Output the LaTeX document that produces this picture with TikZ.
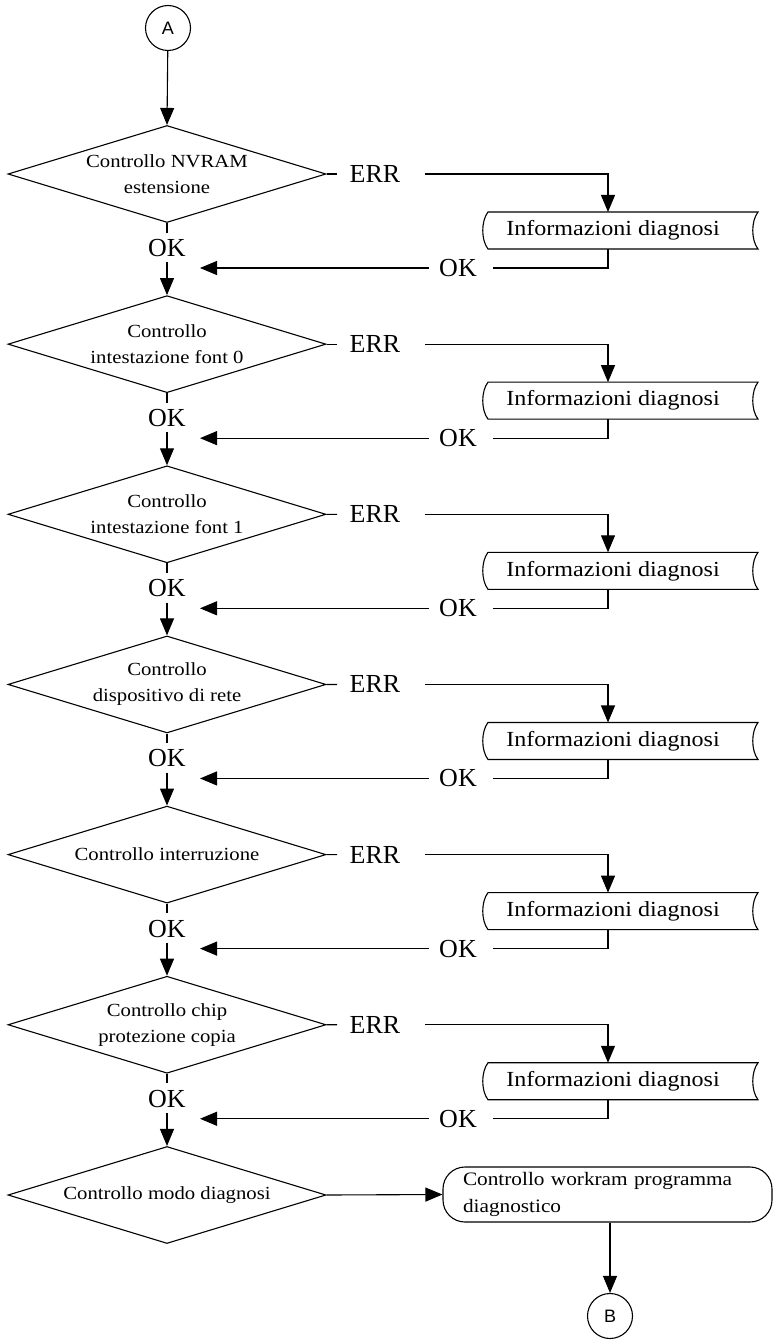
\documentclass[tikz,border=0pt]{standalone}
\usepackage{fontspec}
\setmainfont{Liberation Serif}
\newfontfamily\widefont[FakeStretch=1.12]{Liberation Serif}
\newfontfamily\connfont{Liberation Sans}
\usetikzlibrary{shapes.geometric,arrows.meta,calc}

\begin{document}
\begin{tikzpicture}[x=1pt,y=-1pt,line width=1.1pt,
  flow/.style={-{Triangle[length=17pt,width=14pt]}},
  decision/.style={diamond,draw,minimum width=318pt,minimum height=97pt,
    aspect=3.28,inner sep=0pt,align=center,
    font=\widefont\fontsize{18.5}{26}\selectfont},
  lbl/.style={font=\fontsize{26}{28}\selectfont,inner sep=0pt},
  connector/.style={circle,draw,minimum size=45pt,inner sep=0pt,
    font=\connfont\fontsize{18}{20}\selectfont},
  infotext/.style={font=\widefont\fontsize{21.5}{24}\selectfont,inner sep=0pt},
  terminal/.style={draw,rounded corners=22pt,text width=289pt,inner xsep=20pt,
    inner ysep=0pt,minimum height=55pt,align=left,
    font=\widefont\fontsize{19}{27}\selectfont}]

\useasboundingbox (0,0) rectangle (774,1340);

\node[connector] (A) at (168,28) {A};

% decision column
\node[decision] (d1) at (167,174.00) {Controllo NVRAM\\estensione};
\node[decision] (d2) at (167,344.15) {Controllo\\intestazione font 0};
\node[decision] (d3) at (167,514.30) {Controllo\\intestazione font 1};
\node[decision] (d4) at (167,684.45) {Controllo\\dispositivo di rete};
\node[decision] (d5) at (167,854.60) {Controllo interruzione};
\node[decision] (d6) at (167,1024.75) {Controllo chip\\protezione copia};
\node[decision] (d7) at (167,1195) {Controllo modo diagnosi};

\draw[flow] (A) -- (d1.north);

% error branch of each check: ERR -> diagnostic info -> OK back to the main column
\foreach \i [evaluate=\i as \c using 174+170.15*(\i-1)] in {1,...,6} {
  \node[lbl] (err\i) at (375,\c) {ERR};
  \node[lbl] (okd\i) at (167,\c+74) {OK};
  \node[lbl] (okr\i) at (458,\c+94) {OK};
  \node[infotext] (info\i) at (613,\c+56.5) {Informazioni diagnosi};
  \coordinate (in\i) at (608,\c+38);
  \coordinate (out\i) at (608,\c+75);
  \coordinate (back\i) at (200,\c+94);
  % stored-data outline around the info text
  \draw (488,\c+38) .. controls (481,\c+47) and (481,\c+66) .. (488,\c+75)
    -- (758,\c+75) .. controls (751,\c+66) and (751,\c+47) .. (758,\c+38) -- cycle;
  \draw (d\i.east) -- ([xshift=-12pt]err\i.west);
  \draw[flow] ([xshift=24pt]err\i.east) -| (in\i);
  \draw (out\i) |- ([xshift=16pt]okr\i.east);
  \draw[flow] ([xshift=-10pt]okr\i.west) -- (back\i);
  \draw (d\i.south) -- ([yshift=6pt]okd\i.north);
}

\draw[flow] ([yshift=-5pt]okd1.south) -- (d2.north);
\draw[flow] ([yshift=-5pt]okd2.south) -- (d3.north);
\draw[flow] ([yshift=-5pt]okd3.south) -- (d4.north);
\draw[flow] ([yshift=-5pt]okd4.south) -- (d5.north);
\draw[flow] ([yshift=-5pt]okd5.south) -- (d6.north);
\draw[flow] ([yshift=-5pt]okd6.south) -- (d7.north);

% final check
\node[terminal] (work) at (607.5,1194.5) {Controllo workram programma\\diagnostico};
\node[connector] (B) at (610,1316) {B};
\draw[flow] (d7.east) -- (work.west);
\draw[flow] ([xshift=2.5pt]work.south) -- (B.north);
\end{tikzpicture}
\end{document}
